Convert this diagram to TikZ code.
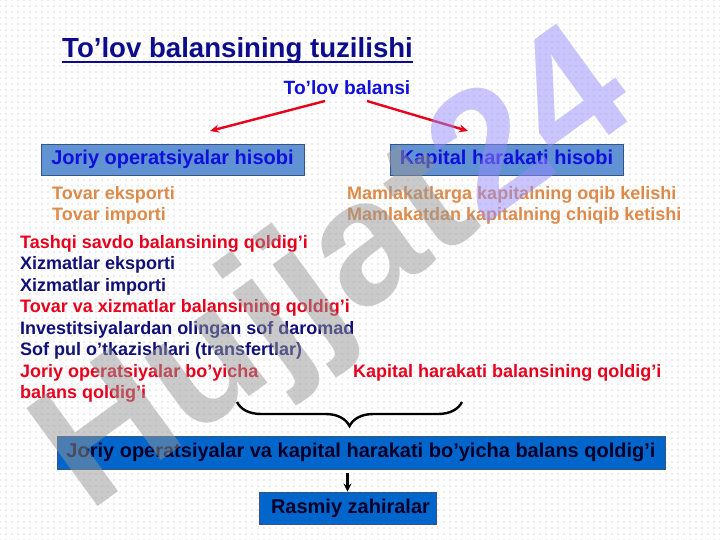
\documentclass[tikz,border=0pt]{standalone}
\usepackage{fontspec}
\setmainfont{Liberation Sans}
\usetikzlibrary{arrows.meta,patterns.meta,decorations.pathreplacing}

\definecolor{navy}{RGB}{16,16,120}
\definecolor{titleblue}{RGB}{12,12,140}
\definecolor{brightblue}{RGB}{16,16,220}
\definecolor{boxblue}{RGB}{96,146,212}
\definecolor{boxedge}{RGB}{58,84,128}
\definecolor{deepblue}{RGB}{0,102,204}
\definecolor{darktext}{RGB}{0,0,40}
\definecolor{orangetext}{RGB}{222,138,74}
\definecolor{redtext}{RGB}{232,0,28}
\definecolor{markgray}{RGB}{150,150,150}
\definecolor{marklilac}{RGB}{150,140,250}

\tikzdeclarepattern{
  name=bgdots,
  type=uncolored,
  bottom left={(-3pt,-3pt)},
  top right={(3pt,3pt)},
  tile size={(6pt,6pt)},
  code={\fill (0pt,0pt) circle (0.7pt);}
}

\tikzset{
  headbox/.style={draw=boxedge, fill=boxblue, line width=0.8pt, text=brightblue,
    minimum height=31pt, inner sep=0pt, font=\fontsize{20}{24}\selectfont\bfseries},
  sumbox/.style={draw=boxedge, fill=deepblue, line width=0.8pt, text=darktext,
    minimum height=33pt, inner sep=0pt, font=\fontsize{20}{24}\selectfont\bfseries},
  itemtxt/.style={anchor=base west, inner sep=0pt, font=\fontsize{18}{21}\selectfont\bfseries},
  redarrow/.style={draw=redtext, line width=2.4pt, -{Stealth[length=9pt,width=8pt]}},
}

\begin{document}
\begin{tikzpicture}[x=1pt, y=-1pt]
  \useasboundingbox (0,0) rectangle (720,540);
  \fill[white] (0,0) rectangle (720,540);
  \fill[pattern=bgdots, pattern color=gray!55] (0,0) rectangle (720,540);

  \node[anchor=base west, inner sep=0pt, text=titleblue, font=\fontsize{27.6}{33}\selectfont\bfseries]
    (title) at (62,58) {To’lov balansining tuzilishi};
  \draw[titleblue, line width=2pt] ([yshift=-4pt]title.base west) -- ([yshift=-4pt]title.base east);

  \node[anchor=base, inner sep=1pt, text=brightblue, font=\fontsize{19.2}{23}\selectfont\bfseries]
    (tb) at (347,95) {To’lov balansi};

  \node[headbox, minimum width=263pt] (joriy)  at (172.5,159.5) {Joriy operatsiyalar hisobi};
  \node[headbox, minimum width=233pt] (kapital) at (506.5,159.5) {Kapital harakati hisobi};

  \coordinate (tbl) at (325,101);
  \coordinate (tbr) at (367,101);
  \coordinate (jt)  at (210,131);
  \coordinate (kt)  at (468,131);
  \draw[redarrow] (tbl) -- (jt);
  \draw[redarrow] (tbr) -- (kt);

  \node[itemtxt, text=orangetext] (te) at (52,200)  {Tovar eksporti};
  \node[itemtxt, text=orangetext] (ti) at (52,221)  {Tovar importi};
  \node[itemtxt, text=orangetext] (mk) at (347,200) {Mamlakatlarga kapitalning oqib kelishi};
  \node[itemtxt, text=orangetext] (mc) at (347,221) {Mamlakatdan kapitalning chiqib ketishi};

  \node[itemtxt, text=redtext] (l1) at (20,248)   {Tashqi savdo balansining qoldig’i};
  \node[itemtxt, text=navy]    (l2) at (20,269.5) {Xizmatlar eksporti};
  \node[itemtxt, text=navy]    (l3) at (20,291)   {Xizmatlar importi};
  \node[itemtxt, text=redtext] (l4) at (20,312.5) {Tovar va xizmatlar balansining qoldig’i};
  \node[itemtxt, text=navy]    (l5) at (20,334)   {Investitsiyalardan olingan sof daromad};
  \node[itemtxt, text=navy]    (l6) at (20,355.5) {Sof pul o’tkazishlari (transfertlar)};
  \node[itemtxt, text=redtext] (l7) at (20,377)   {Joriy operatsiyalar bo’yicha};
  \node[itemtxt, text=redtext] (l8) at (20,398)   {balans qoldig’i};
  \node[itemtxt, text=redtext] (kq) at (353,377)  {Kapital harakati balansining qoldig’i};

  \coordinate (br) at (462,402);
  \coordinate (bl) at (237,402);
  \draw[line width=2.4pt, decorate, decoration={brace, amplitude=24pt}] (br) -- (bl);

  \node[sumbox, minimum width=608pt] (sum) at (361,452.5)
    {Joriy operatsiyalar va kapital harakati bo’yicha balans qoldig’i};
  \node[sumbox, minimum width=177pt, minimum height=32pt] (rz) at (347.5,508) {\hspace{6pt}Rasmiy zahiralar};
  \draw[line width=2.2pt, -{Stealth[length=8pt,width=8pt]}] (sum.south -| rz.north) ++(0,4) -- (rz.north);

  \node[anchor=base west, inner sep=0pt, rotate=36, opacity=0.5,
    font=\fontsize{176}{176}\selectfont\bfseries, text=markgray]
    (mark) at (88,514) {Hujjat\textcolor{marklilac}{24}};
\end{tikzpicture}
\end{document}
